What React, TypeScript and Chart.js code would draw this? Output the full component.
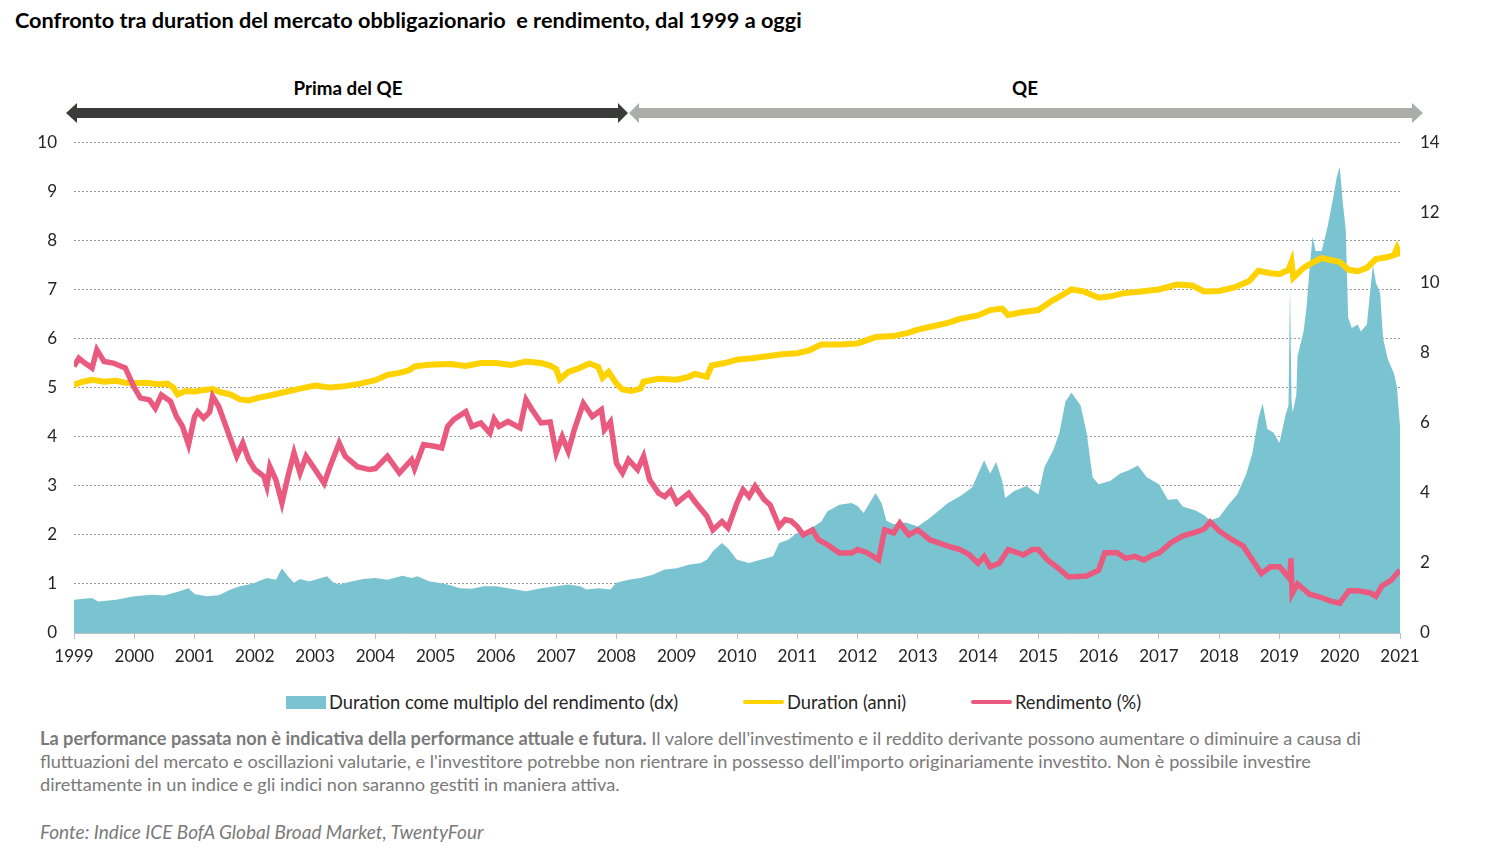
import { useEffect, useRef } from "react";
import { Chart, registerables } from "chart.js";

Chart.register(...registerables);

const FONT = "Lato, 'Open Sans', sans-serif";

// Duration (anni) - left axis
const durationYears = [
  1999.0, 1999.15, 1999.3, 1999.5, 1999.7, 1999.85, 2000.0, 2000.2, 2000.4, 2000.55, 2000.65, 2000.72, 2000.85,
  2001.0, 2001.15, 2001.3, 2001.45, 2001.6, 2001.75, 2001.9, 2002.05, 2002.25, 2002.5, 2002.75, 2003.0, 2003.25,
  2003.5, 2003.75, 2004.0, 2004.2, 2004.4, 2004.55, 2004.65, 2004.85, 2005.0, 2005.25, 2005.5, 2005.75, 2006.0,
  2006.25, 2006.5, 2006.75, 2006.9, 2007.0, 2007.06, 2007.2, 2007.35, 2007.55, 2007.7, 2007.77, 2007.87, 2008.0,
  2008.1, 2008.25, 2008.4, 2008.45, 2008.7, 2009.0, 2009.2, 2009.3, 2009.5, 2009.58, 2009.8, 2010.0, 2010.25,
  2010.5, 2010.75, 2011.0, 2011.2, 2011.4, 2011.7, 2012.0, 2012.3, 2012.6, 2012.85, 2013.0, 2013.25, 2013.5,
  2013.7, 2014.0, 2014.2, 2014.4, 2014.5, 2014.75, 2015.0, 2015.2, 2015.4, 2015.55, 2015.75, 2016.0, 2016.2,
  2016.4, 2016.7, 2017.0, 2017.3, 2017.55, 2017.75, 2018.0, 2018.25, 2018.5, 2018.65, 2018.85, 2019.0, 2019.15,
  2019.2, 2019.23, 2019.4, 2019.55, 2019.7, 2019.85, 2020.0, 2020.15, 2020.3, 2020.45, 2020.6, 2020.8, 2020.9,
  2020.95, 2021.0,
];
const durationValues = [
  5.06, 5.12, 5.16, 5.12, 5.14, 5.1, 5.09, 5.1, 5.07, 5.08, 5.0, 4.86, 4.93,
  4.92, 4.95, 4.97, 4.9, 4.86, 4.76, 4.74, 4.79, 4.84, 4.91, 4.98, 5.04, 5.0,
  5.03, 5.08, 5.15, 5.26, 5.3, 5.35, 5.43, 5.46, 5.47, 5.48, 5.44, 5.5, 5.5,
  5.46, 5.53, 5.5, 5.45, 5.38, 5.17, 5.32, 5.38, 5.49, 5.42, 5.2, 5.32, 5.08,
  4.96, 4.93, 4.98, 5.12, 5.18, 5.16, 5.22, 5.28, 5.22, 5.45, 5.5, 5.57, 5.6,
  5.64, 5.68, 5.7, 5.76, 5.88, 5.88, 5.9, 6.03, 6.05, 6.12, 6.18, 6.25, 6.32,
  6.4, 6.47, 6.58, 6.61, 6.48, 6.54, 6.58, 6.75, 6.89, 7.0, 6.96, 6.83, 6.86,
  6.92, 6.96, 7.0, 7.1, 7.08, 6.96, 6.97, 7.04, 7.17, 7.38, 7.33, 7.31, 7.4,
  7.56, 7.24, 7.44, 7.55, 7.64, 7.6, 7.56, 7.4, 7.37, 7.44, 7.62, 7.66, 7.7,
  7.84, 7.68,
];

// Rendimento (%) - left axis
const yieldYears = [
  1999.0, 1999.08, 1999.18, 1999.3, 1999.38, 1999.5, 1999.65, 1999.85, 2000.0, 2000.1, 2000.25, 2000.35, 2000.45,
  2000.6, 2000.7, 2000.8, 2000.9, 2001.0, 2001.05, 2001.15, 2001.25, 2001.3, 2001.4, 2001.5, 2001.6, 2001.7,
  2001.8, 2001.9, 2002.0, 2002.15, 2002.2, 2002.25, 2002.35, 2002.45, 2002.55, 2002.65, 2002.75, 2002.85, 2003.0,
  2003.15, 2003.25, 2003.4, 2003.5, 2003.7, 2003.9, 2004.0, 2004.2, 2004.4, 2004.6, 2004.65, 2004.8, 2005.0,
  2005.1, 2005.2, 2005.3, 2005.5, 2005.6, 2005.75, 2005.9, 2005.97, 2006.05, 2006.2, 2006.4, 2006.5, 2006.6,
  2006.75, 2006.9, 2007.0, 2007.1, 2007.2, 2007.3, 2007.45, 2007.6, 2007.75, 2007.8, 2007.9, 2008.0, 2008.1,
  2008.2, 2008.35, 2008.45, 2008.55, 2008.7, 2008.8, 2008.9, 2009.0, 2009.2, 2009.3, 2009.5, 2009.6, 2009.75,
  2009.85, 2010.0, 2010.1, 2010.2, 2010.3, 2010.45, 2010.55, 2010.7, 2010.8, 2010.9, 2011.0, 2011.1, 2011.25,
  2011.35, 2011.5, 2011.7, 2011.9, 2012.0, 2012.15, 2012.35, 2012.45, 2012.6, 2012.7, 2012.85, 2013.0, 2013.2,
  2013.5, 2013.7, 2013.85, 2014.0, 2014.1, 2014.2, 2014.35, 2014.5, 2014.6, 2014.75, 2014.9, 2015.0, 2015.15,
  2015.3, 2015.5, 2015.8, 2016.0, 2016.1, 2016.3, 2016.45, 2016.6, 2016.75, 2016.9, 2017.0, 2017.2, 2017.4,
  2017.6, 2017.75, 2017.85, 2018.0, 2018.2, 2018.4, 2018.55, 2018.7, 2018.85, 2019.0, 2019.1, 2019.17, 2019.19,
  2019.21, 2019.3, 2019.5, 2019.7, 2019.85, 2020.0, 2020.15, 2020.3, 2020.5, 2020.6, 2020.7, 2020.85, 2021.0,
];
const yieldValues = [
  5.43, 5.6, 5.5, 5.4, 5.77, 5.53, 5.5, 5.4, 5.0, 4.79, 4.75, 4.58, 4.85,
  4.72, 4.41, 4.21, 3.84, 4.41, 4.51, 4.38, 4.5, 4.82, 4.62, 4.28, 3.94, 3.6,
  3.87, 3.53, 3.33, 3.19, 2.99, 3.39, 3.12, 2.65, 3.19, 3.67, 3.26, 3.6, 3.33,
  3.05, 3.4, 3.87, 3.6, 3.39, 3.33, 3.35, 3.6, 3.26, 3.53, 3.35, 3.84, 3.8,
  3.77, 4.21, 4.35, 4.51, 4.21, 4.28, 4.07, 4.36, 4.21, 4.31, 4.18, 4.75, 4.55,
  4.28, 4.3, 3.67, 4.0, 3.7, 4.14, 4.68, 4.41, 4.55, 4.14, 4.3, 3.46, 3.26,
  3.53, 3.33, 3.6, 3.12, 2.85, 2.78, 2.9, 2.65, 2.85, 2.68, 2.38, 2.1, 2.27,
  2.14, 2.65, 2.92, 2.78, 2.99, 2.72, 2.61, 2.17, 2.31, 2.28, 2.17, 2.0, 2.1,
  1.9, 1.8, 1.63, 1.63, 1.7, 1.64, 1.49, 2.1, 2.04, 2.24, 2.0, 2.1, 1.9,
  1.77, 1.7, 1.6, 1.42, 1.56, 1.35, 1.42, 1.7, 1.66, 1.59, 1.7, 1.7, 1.49,
  1.35, 1.14, 1.16, 1.28, 1.63, 1.64, 1.52, 1.56, 1.49, 1.59, 1.63, 1.84, 1.98,
  2.05, 2.12, 2.26, 2.08, 1.91, 1.77, 1.49, 1.21, 1.35, 1.35, 1.21, 1.1, 1.52,
  0.8, 1.0, 0.79, 0.72, 0.65, 0.61, 0.86, 0.86, 0.82, 0.75, 0.96, 1.07, 1.28,
];

// Duration come multiplo del rendimento (dx) - right axis
const ratioYears = [
  1999.0, 1999.3, 1999.4, 1999.7, 2000.0, 2000.3, 2000.5, 2000.75, 2000.9, 2001.0, 2001.2, 2001.4, 2001.6,
  2001.75, 2001.9, 2002.0, 2002.2, 2002.35, 2002.45, 2002.55, 2002.65, 2002.75, 2002.9, 2003.0, 2003.2, 2003.3,
  2003.4, 2003.6, 2003.8, 2004.0, 2004.2, 2004.45, 2004.6, 2004.7, 2004.9, 2005.0, 2005.2, 2005.4, 2005.6,
  2005.8, 2006.0, 2006.2, 2006.5, 2006.75, 2007.0, 2007.2, 2007.4, 2007.5, 2007.7, 2007.9, 2008.0, 2008.2,
  2008.4, 2008.6, 2008.8, 2009.0, 2009.2, 2009.4, 2009.5, 2009.6, 2009.75, 2009.85, 2010.0, 2010.2, 2010.3,
  2010.5, 2010.6, 2010.7, 2010.85, 2011.0, 2011.2, 2011.4, 2011.5, 2011.7, 2011.9, 2012.0, 2012.1, 2012.3,
  2012.4, 2012.48, 2012.6, 2012.8, 2013.0, 2013.2, 2013.5, 2013.7, 2013.9, 2014.0, 2014.1, 2014.2, 2014.3,
  2014.4, 2014.45, 2014.6, 2014.8, 2015.0, 2015.1, 2015.25, 2015.35, 2015.45, 2015.55, 2015.7, 2015.8, 2015.9,
  2016.0, 2016.2, 2016.35, 2016.5, 2016.65, 2016.8, 2017.0, 2017.15, 2017.3, 2017.4, 2017.6, 2017.75, 2017.85,
  2018.0, 2018.15, 2018.3, 2018.45, 2018.55, 2018.65, 2018.72, 2018.8, 2018.9, 2019.0, 2019.1, 2019.15, 2019.175,
  2019.2, 2019.22, 2019.28, 2019.3, 2019.4, 2019.45, 2019.5, 2019.55, 2019.6, 2019.7, 2019.8, 2019.9, 2019.95,
  2020.0, 2020.05, 2020.1, 2020.14, 2020.2, 2020.3, 2020.35, 2020.45, 2020.55, 2020.6, 2020.67, 2020.72, 2020.8,
  2020.9, 2020.95, 2021.0,
];
const ratioValues = [
  0.95, 1.0, 0.9, 0.95, 1.05, 1.09, 1.07, 1.19, 1.28, 1.11, 1.05, 1.08, 1.24,
  1.33, 1.38, 1.43, 1.57, 1.52, 1.85, 1.62, 1.43, 1.54, 1.47, 1.52, 1.62, 1.45,
  1.38, 1.47, 1.54, 1.57, 1.52, 1.63, 1.57, 1.62, 1.47, 1.45, 1.38, 1.28, 1.26,
  1.33, 1.33, 1.28, 1.19, 1.28, 1.33, 1.38, 1.33, 1.24, 1.28, 1.24, 1.43, 1.52,
  1.57, 1.66, 1.81, 1.85, 1.95, 2.0, 2.09, 2.33, 2.57, 2.42, 2.09, 2.0, 2.05,
  2.14, 2.19, 2.57, 2.66, 2.85, 2.95, 3.18, 3.47, 3.66, 3.71, 3.62, 3.42, 3.99,
  3.7, 3.2, 3.1, 3.15, 3.04, 3.28, 3.71, 3.9, 4.15, 4.54, 4.93, 4.55, 4.88,
  4.34, 3.85, 4.05, 4.19, 3.95, 4.73, 5.23, 5.72, 6.6, 6.85, 6.5, 5.72, 4.44,
  4.24, 4.34, 4.54, 4.64, 4.78, 4.44, 4.24, 3.8, 3.82, 3.6, 3.5, 3.36, 3.21,
  3.3, 3.65, 3.95, 4.54, 5.13, 6.11, 6.55, 5.82, 5.72, 5.42, 6.21, 6.5, 9.9,
  6.6, 6.3, 6.8, 7.9, 8.6, 9.3, 10.4, 11.3, 10.9, 10.9, 11.6, 12.5, 13.0,
  13.3, 12.3, 11.5, 9.0, 8.7, 8.8, 8.6, 8.8, 10.5, 10.0, 9.7, 8.4, 7.8,
  7.4, 7.0, 5.9,
];

const xMin = 1999;
const xMax = 2021;

const TEAL = "#7AC4D1";
const YELLOW = "#FFD200";
const PINK = "#EA5A7E";

function toPoints(xs: number[], ys: number[]) {
  return xs.map((x, i) => ({ x, y: ys[i] }));
}

function ChartCanvas() {
  const canvasRef = useRef<HTMLCanvasElement | null>(null);
  const chartRef = useRef<Chart | null>(null);

  useEffect(() => {
    const canvas = canvasRef.current;
    if (!canvas) return;
    const ctx = canvas.getContext("2d");
    if (!ctx) return;

    chartRef.current?.destroy();
    chartRef.current = new Chart(ctx, {
      type: "line",
      data: {
        datasets: [
          {
            label: "Rendimento (%)",
            data: toPoints(yieldYears, yieldValues),
            borderColor: PINK,
            borderWidth: 5.5,
            pointRadius: 0,
            tension: 0,
            yAxisID: "y",
            order: 0,
          },
          {
            label: "Duration (anni)",
            data: toPoints(durationYears, durationValues),
            borderColor: YELLOW,
            borderWidth: 6,
            pointRadius: 0,
            tension: 0,
            yAxisID: "y",
            order: 1,
          },
          {
            label: "Duration come multiplo del rendimento (dx)",
            data: toPoints(ratioYears, ratioValues),
            borderColor: TEAL,
            backgroundColor: TEAL,
            borderWidth: 0,
            pointRadius: 0,
            fill: "origin",
            tension: 0,
            yAxisID: "y1",
            order: 2,
          },
        ],
      },
      options: {
        animation: false,
        responsive: false,
        maintainAspectRatio: false,
        layout: { padding: { top: 12, left: 0, right: 0, bottom: 0 } },
        plugins: {
          legend: { display: false },
          tooltip: { enabled: false },
        },
        scales: {
          x: {
            type: "linear",
            min: xMin,
            max: xMax,
            afterFit: (scale) => {
              scale.height = 57;
            },
            grid: {
              display: true,
              drawOnChartArea: false,
              drawTicks: true,
              tickLength: 6,
              color: "#bfbfbf",
            },
            border: { display: true, color: "#bfbfbf", width: 1 },
            ticks: {
              stepSize: 1,
              autoSkip: false,
              maxRotation: 0,
              padding: 7,
              color: "#262626",
              font: { family: FONT, size: 17 },
              callback: (v) => String(v),
            },
          },
          y: {
            position: "left",
            min: 0,
            max: 10,
            afterFit: (scale) => {
              scale.width = 74;
            },
            grid: {
              color: "#9a9a9a",
              lineWidth: 1,
              drawTicks: false,
            },
            border: { display: false, dash: [2, 2] },
            ticks: {
              stepSize: 1,
              padding: 17,
              color: "#262626",
              font: { family: FONT, size: 17 },
            },
          },
          y1: {
            position: "right",
            min: 0,
            max: 14,
            afterFit: (scale) => {
              scale.width = 100;
            },
            grid: { display: false, drawTicks: false },
            border: { display: false },
            ticks: {
              stepSize: 2,
              padding: 20,
              color: "#262626",
              font: { family: FONT, size: 17 },
            },
          },
        },
      },
    });

    return () => {
      chartRef.current?.destroy();
      chartRef.current = null;
    };
  }, []);

  return (
    <canvas
      ref={canvasRef}
      width={1500}
      height={578}
      style={{ position: "absolute", left: 0, top: 112, width: 1500, height: 578 }}
    />
  );
}

function Arrows() {
  return (
    <svg width={1500} height={40} style={{ position: "absolute", left: 0, top: 95 }}>
      {/* Prima del QE */}
      <polygon
        points="66,18 77,8 77,13 618,13 618,8 628,18 618,28 618,23 77,23 77,28"
        fill="#3A3C3A"
      />
      {/* QE */}
      <polygon
        points="629,18 639,8 639,13 1412,13 1412,8 1423,18 1412,28 1412,23 639,23 639,28"
        fill="#ABADA9"
      />
    </svg>
  );
}

export default function App() {
  const textGray = "#7a7a7a";
  return (
    <div
      style={{
        position: "absolute",
        left: 0,
        top: 0,
        width: 1500,
        height: 856,
        background: "#ffffff",
        fontFamily: FONT,
        overflow: "hidden",
      }}
    >
      <div
        style={{
          position: "absolute",
          left: 15,
          top: 7,
          fontSize: 21.7,
          fontWeight: 700,
          color: "#000",
          whiteSpace: "pre",
        }}
      >
        {"Confronto tra duration del mercato obbligazionario  e rendimento, dal 1999 a oggi"}
      </div>

      <div
        style={{
          position: "absolute",
          left: 248,
          width: 200,
          top: 76,
          textAlign: "center",
          fontSize: 18.8,
          fontWeight: 700,
          color: "#000",
        }}
      >
        Prima del QE
      </div>
      <div
        style={{
          position: "absolute",
          left: 925,
          width: 200,
          top: 76,
          textAlign: "center",
          fontSize: 18.8,
          fontWeight: 700,
          color: "#000",
        }}
      >
        QE
      </div>

      <Arrows />
      <ChartCanvas />

      {/* Legend */}
      <div
        style={{
          position: "absolute",
          top: 691,
          left: 286,
          display: "flex",
          alignItems: "center",
          fontSize: 18.3,
          color: "#262626",
          whiteSpace: "nowrap",
        }}
      >
        <span style={{ display: "inline-block", width: 40, height: 13, background: TEAL, marginRight: 3 }} />
        <span style={{ width: 414 }}>Duration come multiplo del rendimento (dx)</span>
        <span style={{ display: "inline-block", width: 41, height: 4, borderRadius: 2, background: YELLOW, marginRight: 3 }} />
        <span style={{ width: 184 }}>Duration (anni)</span>
        <span style={{ display: "inline-block", width: 41, height: 4, borderRadius: 2, background: PINK, marginRight: 3 }} />
        <span>Rendimento (%)</span>
      </div>

      {/* Footnote */}
      <div
        style={{
          position: "absolute",
          left: 40,
          top: 727,
          fontSize: 18.2,
          lineHeight: "23px",
          color: textGray,
          whiteSpace: "nowrap",
        }}
      >
        <div>
          <b>La performance passata non è indicativa della performance attuale e futura.</b> Il valore
          dell'investimento e il reddito derivante possono aumentare o diminuire a causa di
        </div>
        <div>
          fluttuazioni del mercato e oscillazioni valutarie, e l'investitore potrebbe non rientrare in possesso
          dell'importo originariamente investito. Non è possibile investire
        </div>
        <div>direttamente in un indice e gli indici non saranno gestiti in maniera attiva.</div>
      </div>
      <div
        style={{
          position: "absolute",
          left: 40,
          top: 820,
          fontSize: 19,
          fontStyle: "italic",
          color: textGray,
          whiteSpace: "nowrap",
        }}
      >
        Fonte: Indice ICE BofA Global Broad Market, TwentyFour
      </div>
    </div>
  );
}
